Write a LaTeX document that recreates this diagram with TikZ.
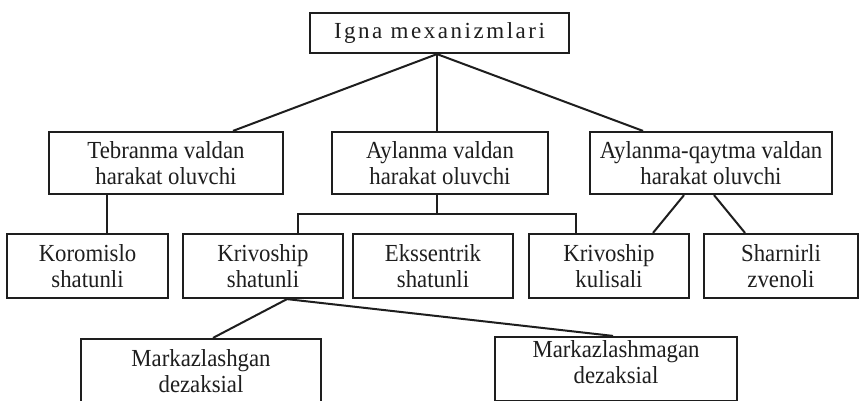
\documentclass[tikz,border=0pt]{standalone}
\usepackage{fontspec}
\setmainfont{Liberation Serif}[FakeStretch=0.93]
\newfontfamily\spacedfont[LetterSpace=11]{Liberation Serif}
\definecolor{ink}{HTML}{1E1E1E}
\tikzset{
  box/.style={draw=ink, line width=2.2pt, align=center, inner sep=0pt, text=ink,
    font=\fontsize{24.5}{26}\selectfont},
  lvltwo/.style={box, minimum height=62pt},
  lvlthree/.style={box, minimum width=160pt, minimum height=64pt},
  txt/.style={align=center, inner sep=0pt, text=ink, font=\fontsize{24.5}{26}\selectfont},
  link/.style={draw=ink, line width=2pt}
}
\begin{document}
\begin{tikzpicture}[x=1pt,y=-1pt]
\useasboundingbox (0,0) rectangle (861,400);
\clip (0,0) rectangle (861,400);
\fill[white] (0,0) rectangle (861,400);

% top
\node[box, minimum width=259pt, minimum height=40pt, font=\fontsize{23}{26}\selectfont] (top) at (439.5,33) {\spacedfont Igna mexanizmlari};

% level 2
\node[lvltwo, minimum width=234pt] (teb) at (166,163) {Tebranma valdan\\harakat oluvchi};
\node[lvltwo, minimum width=216pt] (ayl) at (440,163) {Aylanma valdan\\harakat oluvchi};
\node[lvltwo, minimum width=242pt] (aq) at (711,163) {Aylanma-qaytma valdan\\harakat oluvchi};

% level 3
\node[lvlthree, minimum width=161pt] (kor) at (87.5,266) {Koromislo\\shatunli};
\node[lvlthree] (ks) at (263,266) {Krivoship\\shatunli};
\node[lvlthree] (eks) at (433,266) {Ekssentrik\\shatunli};
\node[lvlthree] (kk) at (609,266) {Krivoship\\kulisali};
\node[lvlthree, minimum width=154pt] (sh) at (781,266) {Sharnirli\\zvenoli};

% level 4
\node[box, minimum width=240pt, minimum height=64pt] (mg) at (201,371) {Markazlashgan\\dezaksial};
\node[box, minimum width=242pt, minimum height=64pt] (mmg) at (616,369) {};
\node[txt] (mmgt) at (616,362) {Markazlashmagan\\dezaksial};

% connectors from top
\coordinate (apex) at ([xshift=-2.5pt]top.south);
\draw[link] (apex) -- ([xshift=67pt]teb.north);
\draw[link] (apex) -- ([xshift=-3pt]ayl.north);
\draw[link] (apex) -- ([xshift=-68pt]aq.north);

% Tebranma -> Koromislo
\draw[link] ([xshift=-59pt]teb.south) -- ([xshift=19.5pt]kor.north);

% Aylanma bracket
\coordinate (br) at (437,215);
\draw[link] ([xshift=-3pt]ayl.south) -- (br);
\draw[link] ([xshift=35pt]ks.north) -- ++(0,-19) -| ([xshift=-33pt]kk.north);

% Aylanma-qaytma
\draw[link] ([xshift=-27pt]aq.south) -- ([xshift=44pt]kk.north);
\draw[link] ([xshift=3pt]aq.south) -- ([xshift=-36pt]sh.north);

% Krivoship shatunli -> bottom
\coordinate (ksb) at ([xshift=24pt]ks.south);
\draw[link] (ksb) -- ([xshift=12pt]mg.north);
\draw[link] (ksb) -- ([xshift=-3pt]mmg.north);
\end{tikzpicture}
\end{document}
